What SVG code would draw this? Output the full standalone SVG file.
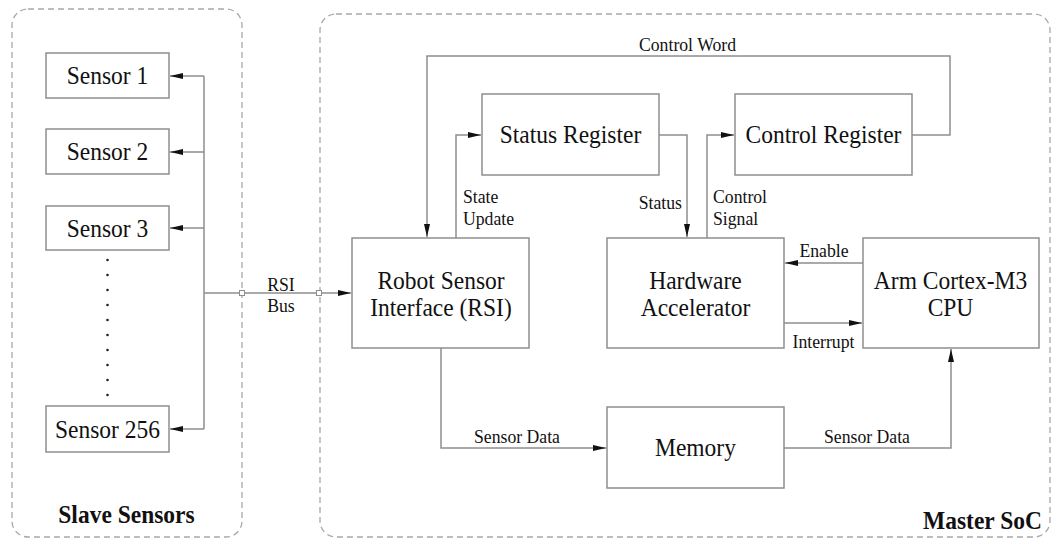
<svg xmlns="http://www.w3.org/2000/svg" width="1051" height="539" viewBox="0 0 1051 539">
<style>
.container{fill:none;stroke:#a8a8a8;stroke-width:1.3;stroke-dasharray:6 4}
.box{fill:#fff;stroke:#8e8e8e;stroke-width:1.5}
.conn{fill:none;stroke:#8e8e8e;stroke-width:1.5}
text{font-family:'Liberation Serif','Times New Roman',serif;fill:#111}
.t{transform-box:fill-box;transform-origin:center;transform:scaleY(1.1)}
.n{font-size:23.5px;text-anchor:middle}
.s{font-size:17.7px}
.b{font-size:23.5px;font-weight:bold}
.dot{fill:#222}
.sq{fill:#fff;stroke:#8e8e8e;stroke-width:1}
</style>
<defs>
<marker id="arr" markerUnits="userSpaceOnUse" markerWidth="14" markerHeight="8" refX="13" refY="3" orient="auto">
<path d="M0,0 L13,3 L0,6 Z" fill="#111"/>
</marker>
</defs>

<rect class="container" x="12" y="9" width="230" height="528" rx="16"/>
<rect class="container" x="320" y="14" width="730" height="523" rx="16"/>

<g id="connectors">
<path class="conn" d="M204,76 V429"/>
<path class="conn" d="M204,76 H170" marker-end="url(#arr)"/>
<path class="conn" d="M204,152 H170" marker-end="url(#arr)"/>
<path class="conn" d="M204,228 H170" marker-end="url(#arr)"/>
<path class="conn" d="M204,429 H170" marker-end="url(#arr)"/>
<path class="conn" d="M204,293 H351" marker-end="url(#arr)"/>
<rect class="sq" x="239.5" y="290.5" width="5" height="5"/>
<rect class="sq" x="316.5" y="290.5" width="5" height="5"/>
<path class="conn" d="M912,135 H950 V56 H427 V237" marker-end="url(#arr)"/>
<path class="conn" d="M456,238 V135 H481" marker-end="url(#arr)"/>
<path class="conn" d="M659,135 H687 V237" marker-end="url(#arr)"/>
<path class="conn" d="M707,238 V135 H734" marker-end="url(#arr)"/>
<path class="conn" d="M863,263 H785" marker-end="url(#arr)"/>
<path class="conn" d="M784,323 H862" marker-end="url(#arr)"/>
<path class="conn" d="M441,348 V448 H606" marker-end="url(#arr)"/>
<path class="conn" d="M784,448 H951 V349" marker-end="url(#arr)"/>
<text class="t s" x="687.5" y="49.9" text-anchor="middle">Control Word</text>
<text class="t s" x="463" y="202.4">State</text>
<text class="t s" x="463" y="224.4">Update</text>
<text class="t s" x="682" y="207.9" text-anchor="end">Status</text>
<text class="t s" x="713" y="202.4">Control</text>
<text class="t s" x="713" y="224.4">Signal</text>
<text class="t s" x="824" y="255.9" text-anchor="middle">Enable</text>
<text class="t s" x="823.5" y="346.9" text-anchor="middle">Interrupt</text>
<text class="t s" x="517" y="442.4" text-anchor="middle">Sensor Data</text>
<text class="t s" x="867" y="442.4" text-anchor="middle">Sensor Data</text>
<text class="t s" x="281" y="289.9" text-anchor="middle">RSI</text>
<text class="t s" x="281" y="311.4" text-anchor="middle">Bus</text>
</g>

<g id="sensor1"><rect class="box" x="46" y="53" width="123" height="45"/><text class="t n" x="107.5" y="83.3">Sensor 1</text></g>
<g id="sensor2"><rect class="box" x="46" y="129" width="123" height="45"/><text class="t n" x="107.5" y="159.3">Sensor 2</text></g>
<g id="sensor3"><rect class="box" x="46" y="206" width="123" height="44"/><text class="t n" x="107.5" y="235.8">Sensor 3</text></g>
<g id="dots">
<circle class="dot" cx="107.5" cy="260" r="1.3"/><circle class="dot" cx="107.5" cy="275" r="1.3"/>
<circle class="dot" cx="107.5" cy="290" r="1.3"/><circle class="dot" cx="107.5" cy="305" r="1.3"/>
<circle class="dot" cx="107.5" cy="320" r="1.3"/><circle class="dot" cx="107.5" cy="335" r="1.3"/>
<circle class="dot" cx="107.5" cy="350" r="1.3"/><circle class="dot" cx="107.5" cy="365" r="1.3"/>
<circle class="dot" cx="107.5" cy="380" r="1.3"/><circle class="dot" cx="107.5" cy="395" r="1.3"/>
</g>
<g id="sensor256"><rect class="box" x="46" y="406" width="123" height="46"/><text class="t n" x="107.5" y="436.8">Sensor 256</text></g>

<g id="rsi"><rect class="box" x="352" y="238" width="177" height="110"/>
<text class="t n" x="441" y="287.8">Robot Sensor</text><text class="t n" x="441" y="315.5">Interface (RSI)</text></g>
<g id="status-register"><rect class="box" x="482" y="94" width="177" height="81"/><text class="t n" x="570.5" y="142.3">Status Register</text></g>
<g id="control-register"><rect class="box" x="735" y="94" width="177" height="81"/><text class="t n" x="823.5" y="142.3">Control Register</text></g>
<g id="hw-accel"><rect class="box" x="607" y="238" width="177" height="110"/>
<text class="t n" x="695.5" y="287.8">Hardware</text><text class="t n" x="695.5" y="315.5">Accelerator</text></g>
<g id="cpu"><rect class="box" x="863" y="238" width="176" height="110"/>
<text class="t n" x="950.5" y="287.8">Arm Cortex-M3</text><text class="t n" x="950.5" y="315.5">CPU</text></g>
<g id="memory"><rect class="box" x="607" y="407" width="177" height="81"/><text class="t n" x="695.5" y="455.3">Memory</text></g>

<text class="t b" x="126.5" y="521.8" text-anchor="middle">Slave Sensors</text>
<text class="t b" x="1042" y="528.3" text-anchor="end">Master SoC</text>
</svg>
